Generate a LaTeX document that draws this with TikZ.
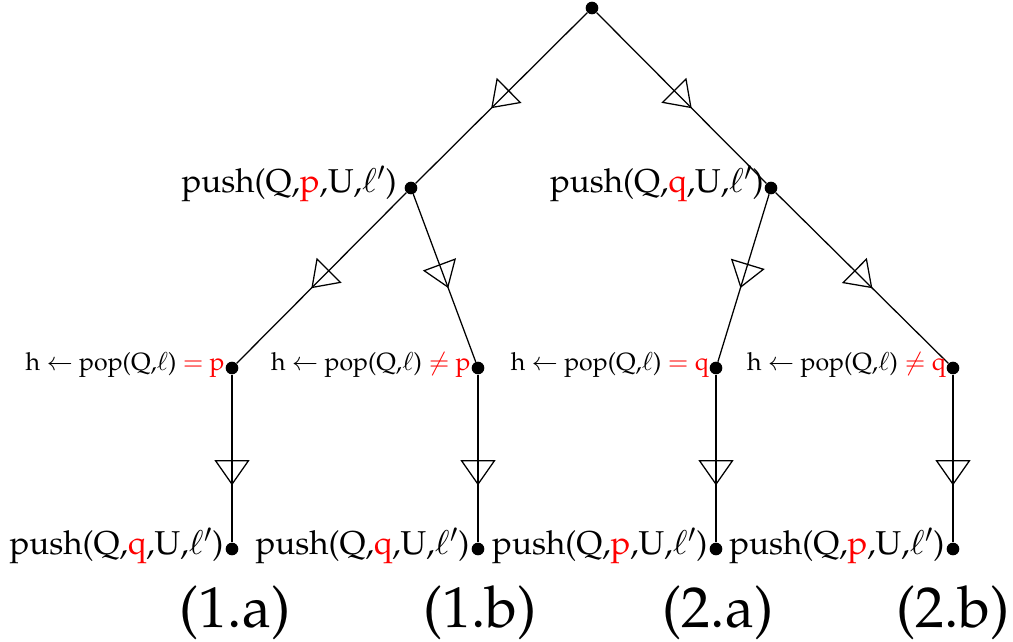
\documentclass[tikz,border=0pt]{standalone}
\usepackage[T1]{fontenc}
\usepackage{mathpazo}
\usepackage{xcolor}
\usetikzlibrary{arrows.meta, decorations.markings}

\tikzset{
    dot/.style={circle, fill=black, inner sep=0pt, minimum size=9pt},
    flow/.style={line width=0.9pt, postaction={decorate},
        decoration={markings, mark=at position #1 with
            {\arrow{Triangle[open, length=18pt, width=25pt, line width=0.9pt]}}}},
    flow/.default=0.56,
    pushlbl/.style={font=\fontsize{23.5}{28}\selectfont, inner sep=0pt, anchor=base east},
    poplbl/.style={font=\fontsize{17.7}{21}\selectfont, inner sep=0pt, anchor=base east},
    caselbl/.style={font=\fontsize{41}{49}\selectfont, inner sep=0pt, anchor=base}
}

\begin{document}
\begin{tikzpicture}[x=0.025cm, y=-0.025cm]
    \useasboundingbox (0,0) rectangle (1013,642);

    % tree nodes
    \node[dot] (root) at (592,8) {};
    \node[dot] (pp) at (411,188) {};
    \node[dot] (pq) at (771,188) {};
    \node[dot] (h1a) at (232,368) {};
    \node[dot] (h1b) at (478,368) {};
    \node[dot] (h2a) at (716,368) {};
    \node[dot] (h2b) at (953,368) {};
    \node[dot] (e1a) at (232,549) {};
    \node[dot] (e1b) at (478,549) {};
    \node[dot] (e2a) at (716,549) {};
    \node[dot] (e2b) at (953,549) {};

    % connectors
    \draw[flow] (root) -- (pp);
    \draw[flow] (root) -- (pq);
    \draw[flow] (pp) -- (h1a);
    \draw[flow] (pp) -- (h1b);
    \draw[flow] (pq) -- (h2a);
    \draw[flow] (pq) -- (h2b);
    \draw[flow=0.66] (h1a) -- (e1a);
    \draw[flow=0.66] (h1b) -- (e1b);
    \draw[flow=0.66] (h2a) -- (e2a);
    \draw[flow=0.66] (h2b) -- (e2b);

    % labels
    \node[pushlbl] (lpp) at ([xshift=-10pt, yshift=-3pt]pp.center)
        {push(Q,\textcolor{red}{p},U,$\ell'$)};
    \node[pushlbl] (lpq) at ([xshift=-5pt, yshift=-3pt]pq.center)
        {push(Q,\textcolor{red}{q},U,$\ell'$)};
    \node[pushlbl] (le1a) at ([xshift=-6pt, yshift=-4pt]e1a.center)
        {push(Q,\textcolor{red}{q},U,$\ell'$)};
    \node[pushlbl] (le1b) at ([xshift=-6pt, yshift=-4pt]e1b.center)
        {push(Q,\textcolor{red}{q},U,$\ell'$)};
    \node[pushlbl] (le2a) at ([xshift=-6pt, yshift=-4pt]e2a.center)
        {push(Q,\textcolor{red}{p},U,$\ell'$)};
    \node[pushlbl] (le2b) at ([xshift=-6pt, yshift=-4pt]e2b.center)
        {push(Q,\textcolor{red}{p},U,$\ell'$)};
    \node[poplbl] (lh1a) at ([xshift=-5pt, yshift=-1.5pt]h1a.center)
        {h $\leftarrow$ pop(Q,$\ell$) \textcolor{red}{$=$ p}};
    \node[poplbl] (lh1b) at ([xshift=-5pt, yshift=-1.5pt]h1b.center)
        {h $\leftarrow$ pop(Q,$\ell$) \textcolor{red}{$\neq$ p}};
    \node[poplbl] (lh2a) at ([xshift=-5pt, yshift=-1.5pt]h2a.center)
        {h $\leftarrow$ pop(Q,$\ell$) \textcolor{red}{$=$ q}};
    \node[poplbl] (lh2b) at ([xshift=-5pt, yshift=-1.5pt]h2b.center)
        {h $\leftarrow$ pop(Q,$\ell$) \textcolor{red}{$\neq$ q}};

    % case names
    \node[caselbl] (c1a) at (235,627) {(1.a)};
    \node[caselbl] (c1b) at (480,627) {(1.b)};
    \node[caselbl] (c2a) at (718,627) {(2.a)};
    \node[caselbl] (c2b) at (953,627) {(2.b)};
\end{tikzpicture}
\end{document}
